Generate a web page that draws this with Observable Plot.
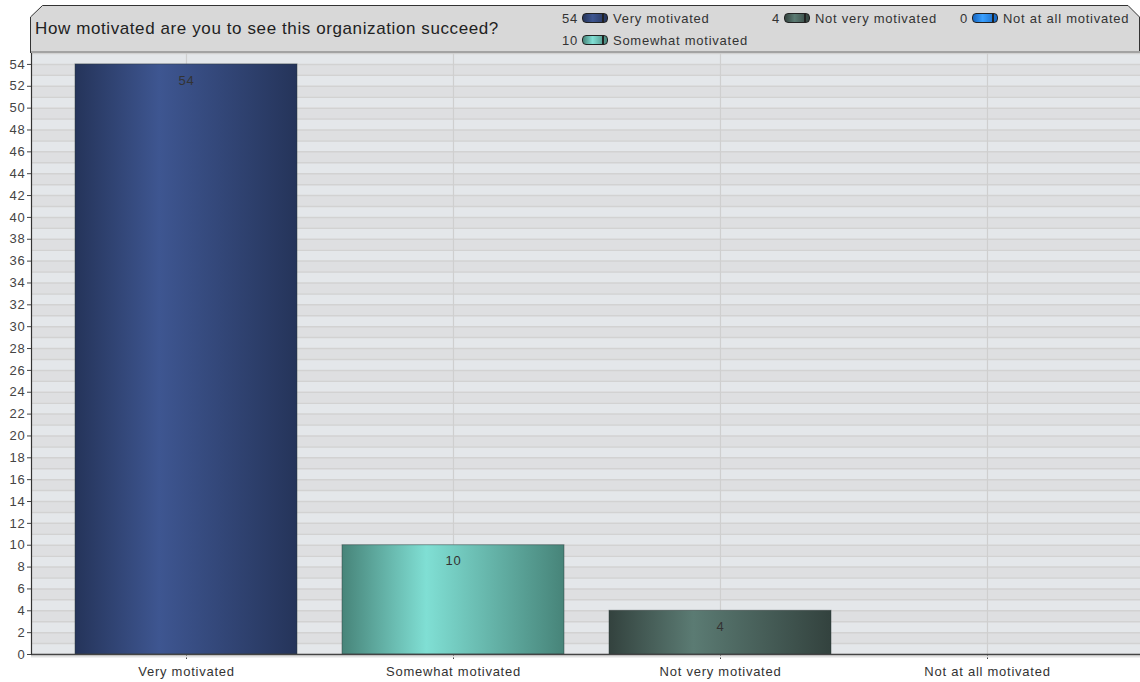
<!DOCTYPE html>
<html>
<head>
<meta charset="utf-8">
<script src="https://cdn.jsdelivr.net/npm/d3@7"></script>
<script src="https://cdn.jsdelivr.net/npm/@observablehq/plot@0.6"></script>
<style>
  html, body { margin: 0; padding: 0; background: #fff; }
  #wrap { position: relative; width: 1140px; height: 682px; font-family: "Liberation Sans", Arial, sans-serif; }
  #header { position: absolute; left: 0; top: 0; width: 1140px; height: 54px; pointer-events: none; }
  #title { position: absolute; left: 35px; top: 19px; font-size: 17px; letter-spacing: 0.6px; color: #222; white-space: nowrap; }
  .li { position: absolute; font-size: 13px; letter-spacing: 0.75px; color: #333; white-space: nowrap; display: flex; align-items: center; height: 16px; }
  .li .num { margin-right: 4px; }
  .li .ico { width: 26px; height: 10px; border: 1.3px solid #222; border-radius: 4px; margin-right: 5px; box-sizing: border-box; }
</style>
</head>
<body>
<div id="wrap">
  <div id="chart"></div>
  <svg id="header" width="1140" height="54">
    <path d="M30.5,53 L30.5,17 L42.5,5.5 L1128,5.5 L1139.5,17 L1139.5,53" fill="#d8d8d8" stroke="#333" stroke-width="1"></path>
    <line x1="31" x2="1140" y1="52" y2="52" stroke="#a3a3a3" stroke-width="2"></line>
  </svg>
  <div id="title">How motivated are you to see this organization succeed?</div>
  <div id="legend"></div>
</div>
<script>
const title = "How motivated are you to see this organization succeed?";
const categories = ["Very motivated", "Somewhat motivated", "Not very motivated", "Not at all motivated"];
const counts = [54, 10, 4, 0];
const yTicks = d3.range(0, 55, 2);
const barDark = ["#25345a", "#478479", "#33423e", "#1565c0"];
const barLight = ["#3e5691", "#80dfd4", "#5b7b73", "#3aa0ff"];

const data = categories.map((c, i) => ({category: c, count: counts[i]}));
const stripes = d3.range(0, 55);

const plot = Plot.plot({
  width: 1140,
  height: 682,
  marginLeft: 31,
  marginRight: 0,
  marginTop: 53,
  marginBottom: 28,
  style: {fontFamily: "Liberation Sans, Arial, sans-serif", fontSize: "13px", letterSpacing: "0.75px", background: "#fff", color: "#333"},
  x: {domain: categories, paddingInner: 0.168, paddingOuter: 0.155, align: 0.51, label: null},
  y: {domain: [0, 55], label: null},
  color: {type: "ordinal", domain: categories, range: categories.map((_, i) => `url(#grad${i})`)},
  marks: [
    Plot.rect(stripes.filter(d => d % 2 === 0), {y1: d => d, y2: d => d + 1, fill: "#e4e7ea"}),
    Plot.rect(stripes.filter(d => d % 2 === 1), {y1: d => d, y2: d => d + 1, fill: "#dedfe1"}),
    Plot.ruleY(d3.range(0, 56), {stroke: "#d2d2d2", strokeWidth: 1.5}),
    Plot.ruleX(categories, {stroke: "#cfcfcf", strokeWidth: 1.2}),
    Plot.barY(data.filter(d => d.count > 0), {x: "category", y: "count", fill: "category", stroke: "#2b3538", strokeOpacity: 0.45, strokeWidth: 1}),
    Plot.text(data.filter(d => d.count > 0), {x: "category", y: "count", text: d => String(d.count), dy: 16, fontSize: 13, fill: "#333"}),
    Plot.axisY(yTicks, {tickSize: 4, tickPadding: 2, fontSize: 13, stroke: "#444", fill: "#444"}),
    Plot.axisX({tickSize: 5, tickPadding: 7, fontSize: 13, stroke: "#444", fill: "#333"}),
    Plot.ruleY([0], {stroke: "#e2e2e2", strokeWidth: 2, dy: 2}),
    Plot.ruleY([0], {stroke: "#444", strokeWidth: 1.5}),
    Plot.frame({anchor: "left", stroke: "#333", strokeWidth: 1.2})
  ]
});

const svg = d3.select(plot);
const defs = svg.insert("defs", ":first-child");
categories.forEach((c, i) => {
  const g = defs.append("linearGradient").attr("id", `grad${i}`).attr("x1", 0).attr("x2", 1).attr("y1", 0).attr("y2", 0);
  g.append("stop").attr("offset", "0%").attr("stop-color", barDark[i]);
  g.append("stop").attr("offset", "38%").attr("stop-color", barLight[i]);
  g.append("stop").attr("offset", "100%").attr("stop-color", barDark[i]);
});
document.getElementById("chart").appendChild(plot);

// legend
const legendPos = [[562, 10], [562, 32], [772, 10], [960, 10]];
const legend = document.getElementById("legend");
categories.forEach((c, i) => {
  const item = document.createElement("div");
  item.className = "li";
  item.style.left = legendPos[i][0] + "px";
  item.style.top = legendPos[i][1] + "px";
  const bg = `linear-gradient(to right, transparent 80%, #222 80%, #222 87%, transparent 87%), linear-gradient(to right, ${barDark[i]}, ${barLight[i]} 40%, ${barDark[i]})`;
  item.innerHTML = `<span class="num">${counts[i]}</span><span class="ico" style="background: ${bg}"></span><span>${c}</span>`;
  legend.appendChild(item);
});
</script>
</body>
</html>
